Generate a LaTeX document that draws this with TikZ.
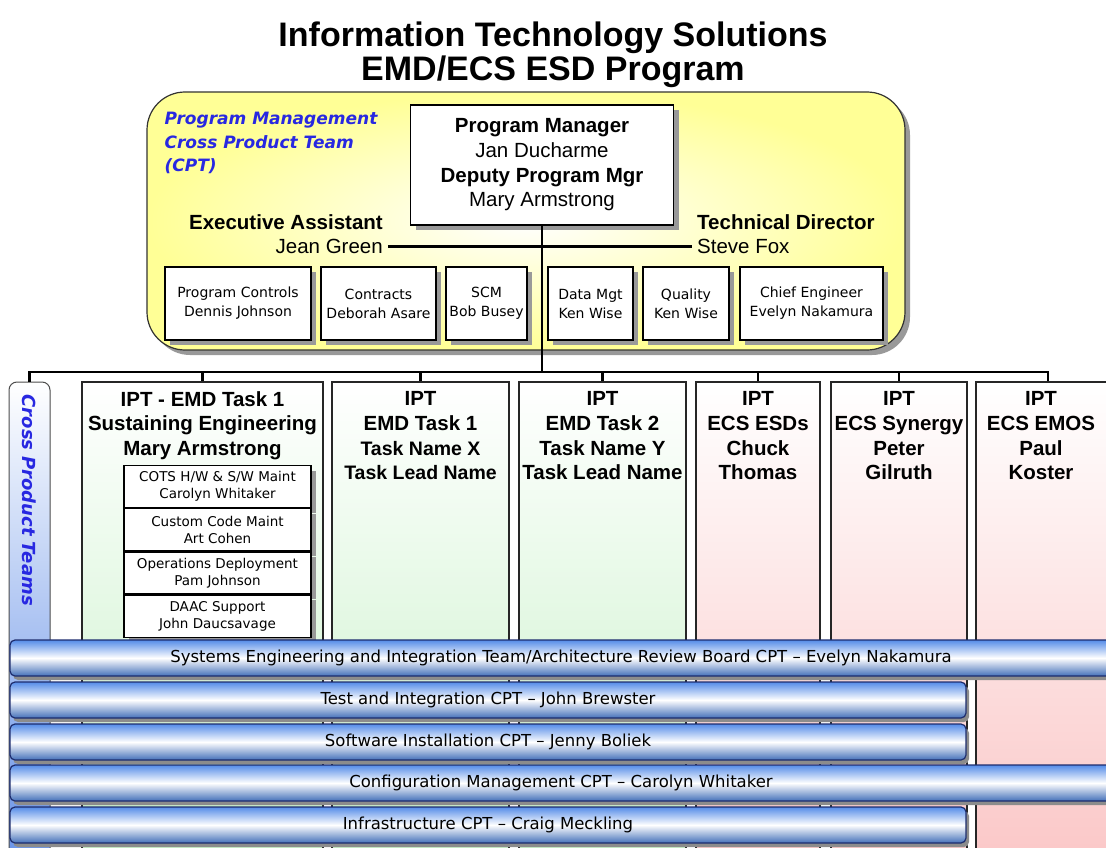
\documentclass[tikz,border=0pt]{standalone}
\usepackage{fontspec}
\setmainfont{Liberation Sans}
\newfontfamily\dejavu{DejaVu Sans}
\usepackage{tikz}
\usetikzlibrary{positioning,shadows}

\definecolor{cptyellow}{RGB}{255,255,150}
\definecolor{cptblue}{RGB}{40,40,225}
\definecolor{iptgreen}{RGB}{195,240,195}
\definecolor{iptpink}{RGB}{250,195,195}
\definecolor{barblue}{RGB}{85,140,232}
\definecolor{baredge}{RGB}{30,45,110}
\definecolor{tabblue}{RGB}{95,140,230}

\tikzset{
  shadowed/.style={drop shadow={shadow xshift=5pt, shadow yshift=-5pt, fill=black!40, opacity=1}},
  conn/.style={line width=2.4pt},
  maintitle/.style={font=\fontsize{34}{34}\selectfont\bfseries, align=center, inner sep=0pt},
  cptname/.style={font=\dejavu\bfseries\itshape\fontsize{17}{23.5}\selectfont, text=cptblue, align=left, inner sep=0pt},
  pmbox/.style={draw, line width=1.5pt, fill=white, shadowed, align=center,
    font=\fontsize{20.5}{24.7}\selectfont},
  role/.style={font=\fontsize{20.5}{24.5}\selectfont\bfseries, inner sep=0pt},
  person/.style={font=\fontsize{20.5}{24.5}\selectfont, inner xsep=5pt, inner ysep=0pt},
  smallbox/.style={draw, line width=1.3pt, fill=white, shadowed, align=center,
    minimum height=73pt, inner sep=2pt, font=\dejavu\fontsize{14}{19}\selectfont},
  iptcol/.style={draw=black!85, line width=1.8pt, minimum height=518pt, top color=white},
  iptlabel/.style={font=\fontsize{20.5}{24.8}\selectfont\bfseries, align=center, inner sep=0pt},
  subbox/.style={draw, line width=1.3pt, fill=white, shadowed, align=center, minimum width=187pt,
    minimum height=42pt, inner sep=1pt, font=\dejavu\fontsize{13.5}{17}\selectfont},
  crosstab/.style={draw=black!70, line width=1pt, rounded corners=8pt, top color=white,
    bottom color=tabblue, middle color=tabblue!55, minimum width=41pt, minimum height=518pt},
  cptbar/.style={draw=baredge, line width=1.2pt, rounded corners=5pt, minimum height=36pt,
    top color=barblue, bottom color=barblue!80!black, middle color=white,
    drop shadow={shadow xshift=3pt, shadow yshift=-4pt, fill=black!45, opacity=1},
    font=\dejavu\fontsize{16.5}{20}\selectfont}
}

\begin{document}
\begin{tikzpicture}[x=1pt,y=-1pt]
\path[use as bounding box, clip] (0,0) rectangle (1106,848);
%
\node[maintitle] (ttl) at (553,55) {Information Technology Solutions\\EMD/ECS ESD Program};
%
% integrated product teams
\foreach \nm/\cx/\w/\clr in {ipt1/202.5/241/iptgreen, ipt2/420.5/177/iptgreen,
    ipt3/602.5/167/iptgreen, ipt4/758/124/iptpink, ipt5/899/136/iptpink, ipt6/1048/144/iptpink}
  \node[iptcol, minimum width=\w pt, bottom color=\clr] (\nm) at (\cx,641) {};
%
\node[iptlabel, below=10pt of ipt1.north] (h1) {IPT - EMD Task 1\\Sustaining Engineering\\Mary Armstrong};
\node[iptlabel, below=10pt of ipt2.north] (h2) {IPT\\EMD Task 1\\{\fontsize{19.5}{22}\selectfont Task Name X}\\{\fontsize{19.5}{22}\selectfont Task Lead Name}};
\node[iptlabel, below=10pt of ipt3.north] (h3) {IPT\\EMD Task 2\\Task Name Y\\Task Lead Name};
\node[iptlabel, below=10pt of ipt4.north] (h4) {IPT\\ECS ESDs\\Chuck\\Thomas};
\node[iptlabel, below=10pt of ipt5.north] (h5) {IPT\\ECS Synergy\\Peter\\Gilruth};
\node[iptlabel, below=10pt of ipt6.north, xshift=-7pt] (h6) {IPT\\ECS EMOS\\Paul\\Koster};
%
\node[subbox] (sub1) at (217.5,486.5) {COTS H/W \& S/W Maint\\Carolyn Whitaker};
\node[subbox, below=0pt of sub1] (sub2) {Custom Code Maint\\Art Cohen};
\node[subbox, below=0pt of sub2] (sub3) {Operations Deployment\\Pam Johnson};
\node[subbox, below=0pt of sub3] (sub4) {DAAC Support\\John Daucsavage};
%
% cross product teams
\node[crosstab] (tab) at (29.5,641) {};
\node[cptname, font=\dejavu\bfseries\itshape\fontsize{18}{20}\selectfont, rotate=-90, anchor=west]
  (tabname) at ([yshift=-13pt]tab.north) {Cross Product Teams};
%
\node[cptbar, minimum width=1102pt] (sei) at (561,658) {Systems Engineering and Integration Team/Architecture Review Board CPT – Evelyn Nakamura};
\node[cptbar, minimum width=956pt] (tic) at (488,700) {Test and Integration CPT – John Brewster};
\node[cptbar, minimum width=956pt] (sic) at (488,742) {Software Installation CPT – Jenny Boliek};
\node[cptbar, minimum width=1102pt] (cmc) at (561,783) {Configuration Management CPT – Carolyn Whitaker};
\node[cptbar, minimum width=956pt] (ifc) at (488,825) {Infrastructure CPT – Craig Meckling};
%
% program management cpt
\node[draw=black!80, line width=1.2pt, rounded corners=38pt, inner color=white, outer color=cptyellow,
  shadowed, minimum width=758pt, minimum height=258pt] (pmcpt) at (526,221) {};
\node[cptname, anchor=north west] (pmname) at ([xshift=18pt, yshift=-21pt]pmcpt.north west)
  {Program Management\\Cross Product Team\\(CPT)};
%
\node[pmbox, minimum width=263pt, minimum height=120pt] (pm) at (542,165)
  {\textbf{Program Manager}\\Jan Ducharme\\\textbf{Deputy Program Mgr}\\Mary Armstrong};
%
\node[role, anchor=base east] (exec) at (383,229.5) {Executive Assistant};
\node[person, anchor=base east] (jean) at (388,253.5) {Jean Green};
\node[role, anchor=base west] (td) at (697,229.5) {Technical Director};
\node[person, anchor=base west] (steve) at (692,253.5) {Steve Fox};
%
\foreach \nm/\cx/\w/\txt in {ctrl/238/146/{Program Controls\\Dennis Johnson},
    contr/378.5/115/{Contracts\\Deborah Asare}, scm/486.5/81/{SCM\\Bob Busey},
    datamgt/590.5/85/{Data Mgt\\Ken Wise}, quality/686/86/{Quality\\Ken Wise},
    chief/811.5/143/{Chief Engineer\\Evelyn Nakamura}}
  \node[smallbox, minimum width=\w pt] (\nm) at (\cx,303.5) {\txt};
%
% reporting lines
\coordinate (bus) at (0,372);
\draw[conn] (jean.east) -- (steve.west);
\draw[conn] (pm.south) -- (pm.south |- bus);
\draw[conn] (tab.north) -- (tab.north |- bus) -- (ipt6.north |- bus) -- (ipt6.north);
\foreach \c in {ipt1,ipt2,ipt3,ipt4,ipt5}
  \draw[conn] (\c.north) -- (\c.north |- bus);
\end{tikzpicture}
\end{document}
